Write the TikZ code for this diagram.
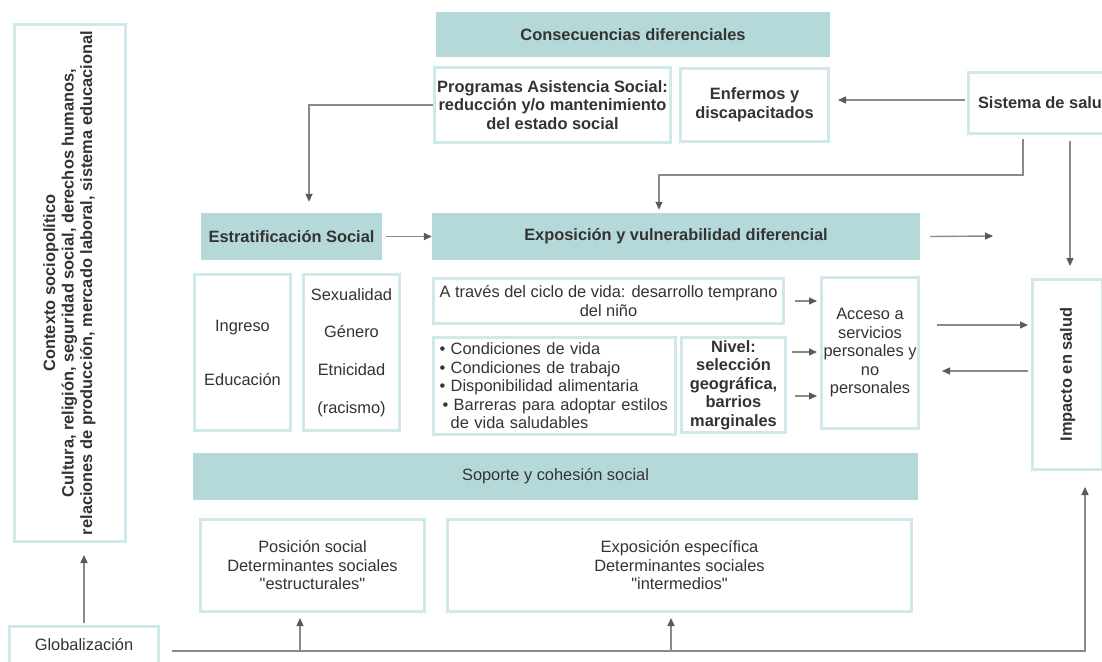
\documentclass[tikz,border=0pt]{standalone}
\usepackage{fontspec}
\usepackage{graphicx}
\setmainfont{Liberation Sans}
\usetikzlibrary{arrows.meta}
\definecolor{tealfill}{HTML}{B4D9D8}
\definecolor{tealbord}{HTML}{D0E8EA}
\definecolor{arrline}{HTML}{8A8A8A}
\definecolor{arrhead}{HTML}{5A5A5A}
\definecolor{txt}{HTML}{333333}
\begin{document}
\begin{tikzpicture}[x=1pt,y=-1pt,
  every node/.style={text=txt, font=\fontsize{16.4}{18.5}\selectfont, inner sep=0pt},
  fillbox/.style={fill=tealfill, draw=none},
  linebox/.style={draw=tealbord, line width=3pt, fill=white},
  bfx/.style={font=\fontsize{16.4}{18.5}\selectfont\bfseries},
  arr/.style={draw=arrline, line width=1.4pt, -{Triangle[length=8pt,width=7pt,color=arrhead]}}
]
\useasboundingbox (0,0) rectangle (1102,661);
\clip (0,0) rectangle (1102,661);

% top row
\node[fillbox, bfx, minimum width=394pt, minimum height=45pt] (cons) at (633,34.5) {Consecuencias diferenciales};
\node[linebox, bfx, minimum width=236pt, minimum height=75pt, align=center] (prog) at (552.5,105) {Programas Asistencia Social:\\reducción y/o mantenimiento\\del estado social};
\node[linebox, bfx, minimum width=148pt, minimum height=73pt, align=center] (enf) at (754.5,105) {Enfermos y\\discapacitados};
\node[linebox, bfx, minimum width=180pt, minimum height=61pt, anchor=west, inner xsep=10pt] (sis) at (966.5,103) {Sistema de salud\hspace*{30pt}};

% left column
\node[linebox, bfx, minimum width=111pt, minimum height=517pt] (ctx) at (70,283) {\rotatebox{90}{\begin{tabular}{@{}c@{}}Contexto sociopolítico\\Cultura, religión, seguridad social, derechos humanos,\\relaciones de producción, mercado laboral, sistema educacional\end{tabular}}};
\node[linebox, minimum width=149pt, minimum height=38pt] (glob) at (84,645) {Globalización};

% middle rows
\node[fillbox, bfx, minimum width=181pt, minimum height=47pt] (estr) at (291.5,236.5) {Estratificación Social};
\node[fillbox, bfx, minimum width=488pt, minimum height=47pt] (expo) at (676,236.5) {Exposición y vulnerabilidad diferencial};

\node[linebox, minimum width=96pt, minimum height=156pt, align=center] (ing) at (242.5,352.5) {Ingreso\\[35.5pt]Educación};
\node[linebox, minimum width=96pt, minimum height=156pt, align=center] (sex) at (351.5,352.5) {Sexualidad\\[19pt]Género\\[19pt]Etnicidad\\[19pt](racismo)};
\node[linebox, minimum width=350pt, minimum height=45pt, align=center] (cic) at (608.5,301) {A través del ciclo de vida: desarrollo temprano\\del niño};
\node[linebox, minimum width=242pt, minimum height=97pt, align=left, text width=230pt] (bul) at (554.5,386) {\textbullet\ Condiciones de vida\\
\textbullet\ Condiciones de trabajo\\
\textbullet\ Disponibilidad alimentaria\\
\hspace*{3pt}\textbullet\ Barreras para adoptar estilos\\
\phantom{\textbullet\ }de vida saludables};
\node[linebox, bfx, minimum width=104pt, minimum height=95pt, align=center] (niv) at (733.5,385) {Nivel:\\selección\\geográfica,\\barrios\\marginales};
\node[linebox, minimum width=97pt, minimum height=151pt, align=center] (acc) at (870,353) {Acceso a\\servicios\\personales y\\no\\personales};
\node[linebox, bfx, minimum width=70pt, minimum height=190pt] (imp) at (1067.5,374.5) {\rotatebox{90}{Impacto en salud}};

% lower rows
\node[fillbox, minimum width=725pt, minimum height=47pt] (sop) at (555.5,476.5) {Soporte y cohesión social};
\node[linebox, minimum width=224pt, minimum height=92pt, align=center] (pos) at (312.5,565.5) {Posición social\\Determinantes sociales\\\textquotedbl estructurales\textquotedbl};
\node[linebox, minimum width=464pt, minimum height=92pt, align=center] (expe) at (679.5,565.5) {Exposición específica\\Determinantes sociales\\\textquotedbl intermedios\textquotedbl};

% coordinates for connector bends and free ends
\coordinate (s0) at (965,100);
\coordinate (p1) at (309,105);
\coordinate (s1) at (1023,175);
\coordinate (s2) at (659,175);
\coordinate (s3) at (1070,143);
\coordinate (e1) at (993,236);
\coordinate (a1) at (795,301);
\coordinate (a2) at (792,352);
\coordinate (a3) at (795,396);
\coordinate (a4) at (937,325);
\coordinate (a5) at (942,371);
\coordinate (b0) at (172,651);
\coordinate (b1) at (1085,651);
\coordinate (u1) at (300,651);
\coordinate (u2) at (671,651);

% connectors
\draw[arr, shorten >=8pt] (s0) -- (s0 -| enf.east);
\draw[arr, shorten >=11pt] (prog.west) -- (p1) -- (p1 |- estr.north);
\draw[arr, shorten <=4pt, shorten >=3pt] (s1 |- sis.south) -- (s1) -- (s2) -- (s2 |- expo.north);
\draw[arr, shorten <=6pt, shorten >=12pt] (s3 |- sis.south) -- (s3 |- imp.north);
\draw[arr, shorten <=4pt] (estr.east) -- (expo.west);
\draw[arr] ([xshift=10pt]expo.east) -- (e1);
\draw[arr, shorten >=3pt] (a1) -- (a1 -| acc.west);
\draw[arr, shorten >=3pt] (a2) -- (a2 -| acc.west);
\draw[arr, shorten >=3pt] (a3) -- (a3 -| acc.west);
\draw[arr, shorten >=3pt] (a4) -- (a4 -| imp.west);
\draw[arr, shorten <=3pt] (a5 -| imp.west) -- (a5);
\draw[arr, shorten <=2pt, shorten >=12pt] (glob.north) -- (glob.north |- ctx.south);
\draw[arr, shorten >=16pt] (b0) -- (b1) -- (b1 |- imp.south);
\draw[arr, shorten >=5pt] (u1) -- (u1 |- pos.south);
\draw[arr, shorten >=5pt] (u2) -- (u2 |- expe.south);
\end{tikzpicture}
\end{document}
